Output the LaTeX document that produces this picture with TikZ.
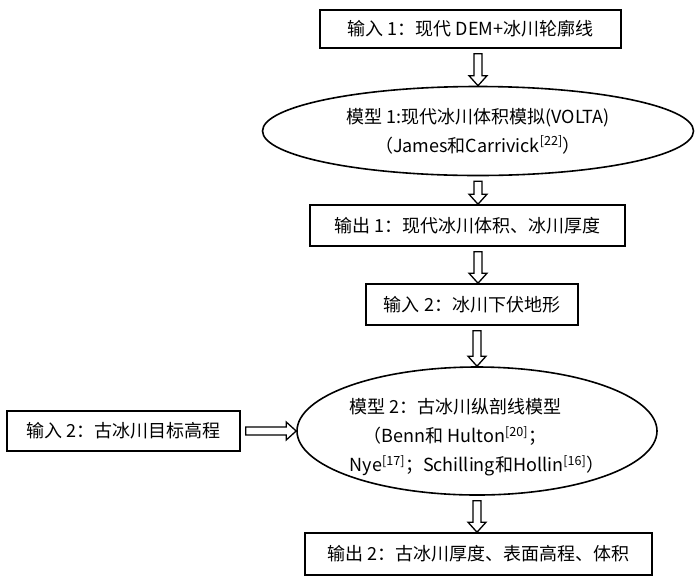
\documentclass[tikz,border=0pt]{standalone}
\usepackage{fontspec}
\setmainfont{Noto Sans CJK SC}
\usetikzlibrary{shapes.geometric,calc}

\tikzset{
    flowbox/.style={
        draw=black, line width=1.6pt, rectangle, inner sep=0pt,
        font=\fontsize{18}{21}\selectfont,
    },
    flowmodel/.style={
        draw=black, line width=1.6pt, ellipse, inner sep=0pt,
        font=\fontsize{18}{29}\selectfont,
    },
    hollow arrow/.style={
        draw=black, line width=1.3pt, line join=miter,
        to path={
            let \p1=($(\tikztostart)!5pt!(\tikztotarget)$),
                \p2=(\tikztotarget),
                \p3=($(\p2)!10pt!(\p1)$) in
            ($(\p1)!4pt!90:(\p2)$) -- ($(\p3)!4pt!90:(\p2)$) -- ($(\p3)!9pt!90:(\p2)$) -- (\p2)
            -- ($(\p3)!9pt!-90:(\p2)$) -- ($(\p3)!4pt!-90:(\p2)$) -- ($(\p1)!4pt!-90:(\p2)$) -- cycle
        },
    },
}

\begin{document}
\begin{tikzpicture}[x=1pt,y=-1pt]
  \useasboundingbox (0,0) rectangle (700,587);

  % Inputs and outputs
  \node[flowbox, minimum width=301pt, minimum height=38pt] (in1) at (470.5,29) {输入 1：现代 DEM+冰川轮廓线};
  \node[flowbox, minimum width=315pt, minimum height=41pt] (out1) at (467.5,225.5) {输出 1：现代冰川体积、冰川厚度};
  \node[flowbox, minimum width=212pt, minimum height=41pt] (in2) at (472,304.5) {输入 2：冰川下伏地形};
  \node[flowbox, minimum width=233pt, minimum height=40pt] (target) at (123.5,431) {输入 2：古冰川目标高程};
  \node[flowbox, minimum width=347pt, minimum height=42pt] (out2) at (478.5,554) {输出 2：古冰川厚度、表面高程、体积};

  % Models
  \node[flowmodel, align=center, minimum width=431pt, minimum height=89pt] (model1) at (478,131)
    {模型 1:现代冰川体积模拟(VOLTA)\\（James和Carrivick\textsuperscript{[22]}）};
  \node[flowmodel, align=left, minimum width=346pt, minimum height=128pt] (model2) at (477,431)
    {\rule{0pt}{28pt}模型 2：古冰川纵剖线模型\\\hspace*{14pt}（Benn和 Hulton\textsuperscript{[20]}；\\Nye\textsuperscript{[17]}；Schilling和Hollin\textsuperscript{[16]}）};

  % Flow
  \draw[hollow arrow] (in1.south -| model1.north) to (model1.north);
  \draw[hollow arrow] (model1.south) to (model1.south |- out1.north);
  \draw[hollow arrow] (out1.south -| model1.north) to (in2.north -| model1.north);
  \draw[hollow arrow] (in2.south -| model2.north) to (model2.north);
  \draw[hollow arrow] (model2.south) to (model2.south |- out2.north);
  \draw[hollow arrow] (target.east) to (model2.west);
\end{tikzpicture}
\end{document}
